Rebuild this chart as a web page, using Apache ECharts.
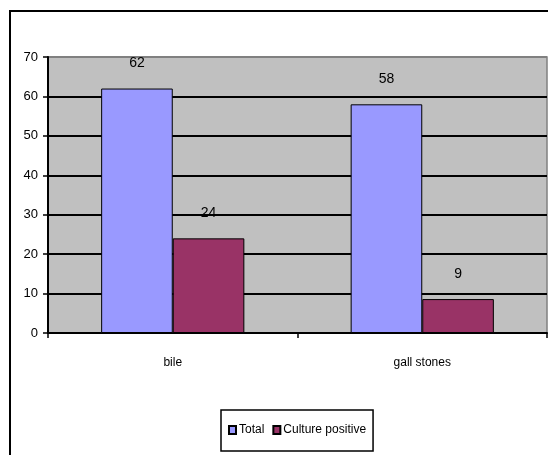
<!DOCTYPE html>
<html>
<head>
<meta charset="utf-8">
<script src="https://cdn.jsdelivr.net/npm/echarts@6/dist/echarts.min.js"></script>
<style>
html,body{margin:0;padding:0;background:#fff;}
#c{width:548px;height:455px;}
</style>
</head>
<body>
<div id="c"></div>
<script>
var categories = ['bile', 'gall stones'];
var totalValues = [62, 58];
var culturePositiveValues = [24, 8.6];
var seriesNames = ['Total', 'Culture positive'];
var yTicks = [0, 10, 20, 30, 40, 50, 60, 70];

var FONT = '"Liberation Sans", Arial, sans-serif';
var chart = echarts.init(document.getElementById('c'), null, {renderer: 'canvas'});

var labelCfg = {
  show: true,
  position: 'top',
  distance: 18,
  color: '#000',
  fontFamily: FONT,
  fontSize: 14,
  formatter: function (p) { return Math.round(p.value); }
};

var option = {
  animation: false,
  backgroundColor: '#fff',
  graphic: [{
    type: 'rect',
    z: 100,
    silent: true,
    shape: {x: 10, y: 11, width: 700, height: 600},
    style: {fill: 'none', stroke: '#000', lineWidth: 2}
  }],
  grid: {
    left: 48, top: 57, right: 1, bottom: 122,
    show: true,
    backgroundColor: '#C0C0C0',
    borderColor: '#808080',
    borderWidth: 1.5
  },
  legend: {
    data: seriesNames,
    left: 221,
    top: 410,
    orient: 'horizontal',
    itemWidth: 7,
    itemHeight: 8,
    itemGap: 8,
    padding: [14, 7, 15, 7],
    borderColor: '#000',
    borderWidth: 1.5,
    backgroundColor: '#fff',
    icon: 'rect',
    textStyle: {fontFamily: FONT, fontSize: 12, color: '#000', padding: [0, 0, 0, -2]}
  },
  xAxis: {
    type: 'category',
    data: categories,
    axisLine: {show: true, lineStyle: {color: '#000', width: 2}},
    axisTick: {show: true, length: 5, lineStyle: {color: '#000', width: 1.5}},
    axisLabel: {margin: 24, fontFamily: FONT, fontSize: 12, color: '#000'},
    splitLine: {show: false}
  },
  yAxis: {
    type: 'value',
    min: yTicks[0],
    max: yTicks[yTicks.length - 1],
    interval: 10,
    axisLine: {show: true, lineStyle: {color: '#000', width: 2}},
    axisTick: {show: true, length: 5, lineStyle: {color: '#000', width: 1.5}},
    axisLabel: {margin: 10, fontFamily: FONT, fontSize: 13, color: '#000'},
    splitLine: {show: true, lineStyle: {color: ['#000', '#000', '#000', '#000', '#000', '#000', '#000', '#808080'], width: 2}}
  },
  series: [{
    name: seriesNames[0],
    type: 'bar',
    data: totalValues,
    barGap: '0%',
    barCategoryGap: '42.6%',
    itemStyle: {color: '#9999FF', borderColor: '#000', borderWidth: 1},
    label: labelCfg
  }, {
    name: seriesNames[1],
    type: 'bar',
    data: culturePositiveValues,
    itemStyle: {color: '#993366', borderColor: '#000', borderWidth: 1},
    label: labelCfg
  }]
};
chart.setOption(option);
</script>
</body>
</html>
